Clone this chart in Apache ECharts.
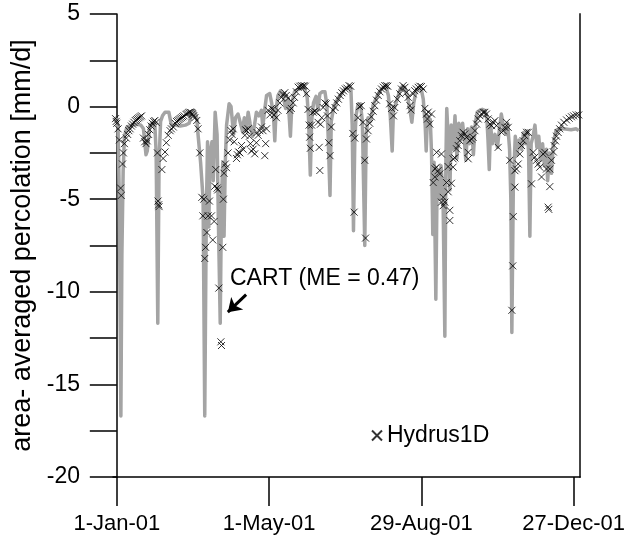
<!DOCTYPE html>
<html>
<head>
<meta charset="utf-8">
<script src="https://cdn.jsdelivr.net/npm/echarts@6/dist/echarts.min.js"></script>
<style>
  html, body { margin: 0; padding: 0; background: #fff; }
  #chart { width: 630px; height: 549px; }
</style>
</head>
<body>
<div id="chart"></div>
<script>
// x = day of year 2001 (0 = 1-Jan-01), y = area-averaged percolation [mm/d]
var xTickDays = [0, 120, 240, 360];
var xTickLabels = ['1-Jan-01', '1-May-01', '29-Aug-01', '27-Dec-01'];

// CART model (grey line)
var cartData = [
  [-2,-0.6],[0,-0.7],[1,-1.2],[2,-5],[3.2,-16.7],[4,-8],[5,-3.5],[6,-1.6],[8,-1.1],[12,-1.0],[16,-0.95],[19,-1.0],
  [21,-1.2],[23,-2.6],[24,-2.4],[26,-1.0],[28,-0.85],[30,-1.0],[31,-2.5],[32.3,-11.7],[33.3,-3],[34.5,-0.8],[36,-0.5],
  [38,-0.3],[41,-0.3],[43,-1.0],[46,-1.0],[50,-1.05],[54,-1.0],[57,-0.9],[59,-0.35],[61,-0.2],[63,-0.6],[64,-1.5],
  [66,-3.0],[68,-5],[69.3,-16.7],[70.5,-6],[71.5,-1.9],[72.5,-6.5],[73.5,-2.5],[75,-1.9],[76,-4],[77.5,-0.3],[79,-1.5],
  [80,-6],[81.5,-11.7],[82.5,-5],[83.5,-3],[84.5,-7],[85.5,-3],[86.5,-1.0],[88.5,0.15],[90,0.0],[92,-1.5],[93.5,-0.6],
  [95.5,-0.4],[97,-0.3],[99,-1.3],[100.5,-0.6],[102,-1.3],[103.5,-0.3],[105,-0.9],[107,-1.6],[108.5,-1.0],[110,-0.3],
  [112,-0.5],[114,-0.2],[115,-1.1],[116.5,-0.2],[118,0.6],[120.5,0.7],[122,0.2],[123.5,-0.5],[124.5,-1.85],[125.5,-0.2],
  [127,0.6],[129,0.85],[131,0.6],[133,-0.1],[135,0.4],[136.8,-1.6],[138,0.2],[140,0.8],[142,0.9],[144,0.95],[146,1.05],
  [148,0.95],[150,0.5],[151,-0.5],[152.5,-3.7],[153.5,-0.8],[155,0.2],[157,0.55],[158.5,-0.2],[160,0.7],[162,0.8],
  [164,0.8],[165.5,0.1],[166.5,-1.5],[168,-4.8],[169,-0.8],[171,0.0],[173,0.3],[175,0.5],[177,0.7],[179,0.9],[181,1.0],
  [183,1.1],[184.5,0.9],[185.5,-1.0],[186.5,-6.7],[187.5,-2],[188.5,-0.5],[190,0.1],[192,0.15],[193.5,-0.8],[195.4,-7.5],
  [196.5,-1.5],[198,-0.6],[200,-0.8],[202,0.1],[204,0.4],[206,0.7],[208,0.9],[210,1.05],[212,1.1],[214,0.6],[215.5,-0.5],
  [217,-2.4],[218,-0.2],[219,0.0],[221,0.4],[223,0.9],[225,1.1],[227,1.0],[229,0.6],[231,-0.2],[232.5,-0.85],[234,0.2],
  [236,0.9],[238,1.0],[240,0.9],[241.5,0.4],[243,-1.0],[243.8,-2.4],[244.8,-0.5],[246,-1.0],[247,-0.7],[248,-2.5],
  [249,-6.9],[250,-3],[251.4,-10.4],[252.5,-3.5],[254,-5],[255.5,-3.2],[257,-4.5],[258.5,-12.4],[259.3,-3],[260,-0.1],
  [261,-1.5],[262.5,-4.5],[263.5,-1.0],[265,-2.3],[266.5,-0.5],[268,-2.8],[269.5,-0.9],[271,-1.8],[272.5,-0.9],[274,-1.9],
  [275,-2.9],[276.5,-1.2],[278,-2.0],[279.5,-1.1],[281,-2.6],[282.5,-0.9],[284,-0.3],[286,-0.2],[288,-0.15],[290,-0.2],
  [291.5,-0.5],[292.5,-1.8],[293.5,-3.4],[294.5,-1.0],[296,-2.0],[298,-1.5],[300,-2.2],[301,-1.5],[303,-0.4],[305,-1.2],
  [307,-1.5],[308,-0.9],[309.5,-2.3],[310.5,-5],[311.3,-12.2],[312.5,-4],[314,-1.6],[315.5,-2.6],[317,-1.8],[319,-2.3],
  [320.5,-1.4],[322,-2.0],[323.5,-1.3],[324.5,-2.5],[325.5,-7.0],[326.5,-2.0],[328,-1.6],[329.5,-1.0],[331,-2.2],
  [332.5,-1.6],[334,-2.9],[335.5,-2.0],[337,-3.2],[338.5,-2.3],[339.5,-4.0],[341,-2.5],[342.5,-3.6],[344,-2.0],[346,-1.3],
  [348,-1.2],[352,-1.2],[358,-1.25],[362,-1.2],[364,-1.3]
];

// Hydrus1D model (crosses)
var hydrusData = [
  [-1,-0.65],[-0.5,-0.8],[0,-0.9],[1,-1.2],[2,-1.8],[3,-4.4],[3.5,-4.8],[4.5,-3.1],[5.2,-2.5],[6,-2.0],[7.5,-1.7],
  [8.5,-1.5],[9.5,-1.3],[10.5,-1.2],[11.5,-1.05],[12.5,-0.95],[13.5,-0.85],[14.5,-0.75],[15.5,-0.7],[16.5,-0.65],
  [17.5,-0.6],[18.5,-0.55],[19.5,-0.5],[21,-1.7],[22,-1.9],[23,-2.0],[24,-1.85],[25,-1.5],[26,-1.25],[27,-1.05],
  [28,-0.9],[29,-0.8],[30,-0.75],[31,-0.85],[32,-2.5],[32.5,-5.1],[33,-5.3],[33.3,-5.4],[35.5,-3.4],[36.5,-2.8],
  [38,-2.45],[39,-1.95],[40.5,-1.55],[42,-1.3],[43,-1.2],[44.5,-1.1],[46,-0.9],[47,-0.8],[48,-0.75],[49,-0.7],
  [50,-0.65],[51,-0.6],[52,-0.55],[53,-0.5],[54.5,-0.42],[55.5,-0.38],[56.5,-0.33],[57.5,-0.3],[58.5,-0.32],
  [59.5,-0.4],[60.5,-0.5],[61.5,-0.6],[63,-0.75],[64,-1.2],[65.4,-2.5],[67,-4.9],[67.8,-5.9],[68.5,-5.0],
  [69.3,-8.2],[70,-7.6],[71,-6.8],[72,-5.9],[73,-5.1],[74.6,-5.9],[75.6,-7.2],[76.7,-6.2],[77.2,-4.3],[78,-3.4],
  [79,-4.4],[79.5,-4.5],[80.4,-9.8],[82,-12.7],[82.5,-12.9],[83.5,-7.6],[84,-5.0],[84.5,-3.6],[85.5,-3.1],[86.5,-3.3],
  [87.7,-2.5],[89,-1.8],[90,-1.3],[90.8,-1.5],[91.7,-1.2],[92.5,-1.9],[94.3,-2.8],[95,-2.6],[96,-2.45],[97,-2.5],
  [98.3,-2.1],[99.5,-2.3],[100.9,-1.55],[101.5,-1.25],[102.2,-1.3],[103.5,-1.2],[104.5,-1.6],[105.3,-2.0],[106.1,-2.4],
  [107.4,-2.3],[108.7,-2.55],[110,-1.95],[110.5,-1.4],[111.4,-1.55],[112.7,-1.3],[114,-1.1],[115.2,-1.3],[116.6,-2.65],
  [117.3,-2.0],[118,-1.2],[119.2,-0.2],[120.6,-0.45],[122,-0.1],[123,-0.15],[124,-0.45],[125.8,-0.6],[127,-0.2],
  [128.5,0.2],[129.8,0.5],[131,0.65],[132.4,0.75],[133.5,0.6],[135,0.45],[136.3,-0.2],[137.5,-0.1],[139,0.2],[140,0.5],
  [141.5,0.8],[142.9,1.05],[144.2,1.1],[145.5,1.13],[146.5,1.1],[147.5,1.13],[148.5,1.1],[149.5,0.7],[150.7,-0.15],
  [151.5,-1.0],[152,-1.65],[152.5,-2.25],[153.5,-1.0],[154.6,-0.3],[156,-0.25],[157.3,-0.3],[158.6,-0.85],[159.5,-2.2],
  [160,-3.45],[160.5,-0.95],[161.5,-0.6],[162.6,-0.05],[164,0.2],[165,0.15],[166,-0.5],[167,-1.95],[168,-2.65],
  [169,-1.1],[170.5,-0.2],[172,-0.05],[173.3,0.2],[174.6,0.4],[176,0.6],[177.3,0.75],[178.6,0.85],[180,0.95],
  [181.3,1.0],[183,1.13],[184.3,1.1],[186,-1.45],[187,-5.7],[187.5,-1.7],[190,-0.6],[191.3,0.0],[192.6,0.05],
  [194,-0.85],[195.4,-2.9],[196,-7.1],[196.7,-1.75],[198,-1.3],[199.3,-0.9],[200.6,-0.55],[202,-0.25],[203.3,0.05],
  [204.6,0.35],[206,0.6],[207.3,0.8],[208.6,0.95],[210,1.05],[211.2,1.13],[212.5,1.13],[213.5,1.1],[215,0.15],
  [216.5,-0.1],[218,-0.5],[219,-0.05],[221,0.4],[223,0.69],[224.3,0.95],[225.6,1.13],[227,1.04],[228.3,0.77],
  [229.6,0.5],[231,0.05],[231.7,-0.18],[233.5,0.69],[234.8,0.86],[236,0.95],[237.5,1.04],[238.8,1.1],[240,1.08],
  [241.4,0.95],[242.7,-0.1],[244,-0.4],[244.8,-0.67],[245.4,-0.3],[246.6,-0.94],[248,-0.4],[249.3,-4.1],[250.6,-3.8],
  [250.8,-3.36],[251.9,-3.27],[252,-2.47],[253.2,-3.46],[254.5,-3.64],[255.8,-2.56],[255.8,-5.16],[257.2,-4.9],
  [257.2,-5.35],[258.5,-5.16],[259.8,-4.1],[261.1,-4.6],[261.1,-3.24],[262.4,-5.6],[262.4,-6.15],[263.7,-4.14],
  [265,-3.27],[265,-2.82],[266.4,-2.77],[267.7,-2.28],[269,-2.1],[270.3,-1.84],[271.6,-1.57],[272.9,-1.39],
  [274.2,-1.48],[275.6,-1.66],[276.9,-2.47],[276.9,-2.82],[278.2,-1.84],[279.5,-1.75],[280.8,-1.66],[282.2,-1.3],
  [283.5,-0.94],[284.8,-0.67],[286.1,-0.49],[287.4,-0.4],[288.7,-0.31],[290,-0.31],[291.3,-0.4],[292.6,-0.67],
  [294,-0.94],[295.3,-1.03],[296.6,-0.85],[297.9,-0.76],[299.2,-1.03],[300.5,-2.2],[303.2,-1.39],[304.5,-1.3],
  [305.8,-1.12],[307.1,-0.85],[308.4,-1.12],[309.7,-2.9],[311.3,-11.0],[312,-8.6],[312.4,-5.94],[313.7,-4.35],
  [313.7,-3.46],[315,-3.37],[316.3,-3.1],[317.6,-2.56],[318.9,-2.1],[320.2,-1.84],[321.5,-1.57],[322.9,-1.39],
  [324.2,-1.39],[326.8,-4.17],[328.1,-2.47],[329.4,-2.73],[330.7,-2.9],[332,-3.1],[333.3,-3.27],[334.7,-3.8],
  [336,-2.56],[337.3,-2.47],[338.6,-3.37],[339.9,-5.43],[340.4,-5.55],[341.2,-3.37],[341.2,-4.32],[342.5,-2.9],
  [344,-2.45],[344.6,-2.1],[345.7,-1.85],[346.5,-1.6],[347.8,-1.4],[349,-1.2],[350.4,-1.0],[352.3,-0.85],
  [354.4,-0.72],[356.5,-0.63],[358.3,-0.55],[360,-0.5],[362,-0.45],[364,-0.45]
];

var labelFont = '"Liberation Sans", Arial, sans-serif';
var crossPath = 'path://M0,0L10,10M10,0L0,10';

var chart = echarts.init(document.getElementById('chart'));
var option = {
  animation: false,
  backgroundColor: '#fff',
  textStyle: { fontFamily: labelFont, color: '#000' },
  grid: { left: 113, right: 50, top: 14, bottom: 72, outerBoundsMode: 'none' },
  legend: {
    data: ['Hydrus1D'],
    left: 366,
    top: 419,
    itemWidth: 10,
    itemHeight: 10,
    textStyle: { fontSize: 23, color: '#000', fontFamily: labelFont }
  },
  xAxis: {
    type: 'value',
    min: -3,
    max: 365,
    splitLine: { show: false },
    axisLine: { onZero: false, lineStyle: { color: '#000', width: 1.5 } },
    axisTick: { customValues: xTickDays, length: 29, lineStyle: { color: '#000', width: 1.5 } },
    axisLabel: {
      customValues: xTickDays,
      margin: 36,
      fontSize: 22,
      color: '#000',
      fontFamily: labelFont,
      formatter: function (v) {
        var i = xTickDays.indexOf(v);
        return i >= 0 ? xTickLabels[i] : '';
      }
    }
  },
  yAxis: [{
    type: 'value',
    min: -20,
    max: 5,
    interval: 5,
    name: 'area- averaged percolation [mm/d]',
    nameLocation: 'middle',
    nameGap: 73,
    nameTextStyle: { fontSize: 27, color: '#000', fontFamily: labelFont },
    splitLine: { show: false },
    axisLine: { lineStyle: { color: '#000', width: 1.5 } },
    axisTick: { length: 27, lineStyle: { color: '#000', width: 1.5 } },
    minorTick: { show: true, splitNumber: 2, length: 27, lineStyle: { color: '#000', width: 1.5 } },
    axisLabel: { margin: 33, fontSize: 23, color: '#000', fontFamily: labelFont }
  }, {
    type: 'value',
    position: 'right',
    min: -20,
    max: 5,
    interval: 5,
    splitLine: { show: false },
    axisLine: { show: true, lineStyle: { color: '#444', width: 2 } },
    axisTick: { show: false },
    axisLabel: { show: false }
  }],
  series: [{
    name: 'CART',
    type: 'line',
    data: cartData,
    showSymbol: false,
    symbol: 'none',
    lineStyle: { color: '#a4a4a4', width: 3.5, join: 'round' },
    z: 2,
    markLine: {
      silent: true,
      symbol: ['none', 'arrow'],
      symbolSize: 13,
      label: { show: false },
      lineStyle: { color: '#000', width: 3, type: 'solid' },
      data: [[{ coord: [101.9, -10.15] }, { coord: [87.5, -11.1] }]]
    }
  }, {
    name: 'Hydrus1D',
    type: 'scatter',
    data: hydrusData,
    symbol: crossPath,
    symbolSize: 7,
    itemStyle: { color: 'rgba(0,0,0,0)', borderColor: '#000', borderWidth: 1 },
    z: 3
  }],
  graphic: [{
    type: 'text',
    left: 230,
    top: 267,
    style: { text: 'CART (ME = 0.47)', font: '23px ' + labelFont, fill: '#000' }
  }]
};
chart.setOption(option);
</script>
</body>
</html>
